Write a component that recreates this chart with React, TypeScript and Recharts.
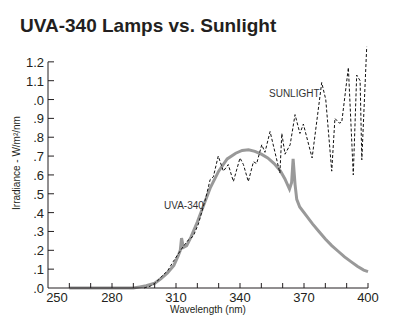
import { LineChart, Line, XAxis, YAxis, ReferenceLine } from 'recharts'

// wavelength (nm) / irradiance (W/m²/nm)
const uvaNm = [260, 290, 293, 296, 300, 303, 306, 309, 311, 312, 312.6, 313.5, 315, 317, 320, 323, 326, 330, 334, 338, 341, 344, 347, 350, 353, 356, 359, 361, 363.2, 364.2, 364.9, 365.8, 366.6, 368, 371, 374, 377, 380, 383, 386, 389, 392, 395, 398, 400]
const uvaVal = [0, 0, 0.006, 0.012, 0.025, 0.05, 0.08, 0.12, 0.17, 0.2, 0.265, 0.215, 0.225, 0.27, 0.35, 0.44, 0.53, 0.62, 0.685, 0.715, 0.73, 0.733, 0.725, 0.71, 0.69, 0.66, 0.62, 0.58, 0.525, 0.56, 0.685, 0.55, 0.47, 0.43, 0.385, 0.34, 0.3, 0.26, 0.225, 0.195, 0.165, 0.14, 0.115, 0.095, 0.087]

const sunNm = [295, 298, 300, 302, 304, 306, 308.7, 311, 313.4, 315.8, 318.1, 320.5, 322, 324, 326, 327.5, 329.8, 332.2, 334.5, 336.9, 340, 341.6, 343.9, 346.3, 347.8, 350.2, 351.7, 354.1, 358.7, 359.6, 361.1, 363.5, 365.8, 368.1, 369.7, 373.8, 378.3, 380.2, 383, 384.5, 386.5, 387.7, 390.8, 393.1, 394.7, 396.3, 397.1, 399.4]
const sunVal = [0, 0.01, 0.025, 0.045, 0.07, 0.09, 0.14, 0.18, 0.22, 0.255, 0.275, 0.34, 0.4, 0.48, 0.575, 0.59, 0.7, 0.62, 0.655, 0.565, 0.69, 0.655, 0.565, 0.67, 0.66, 0.76, 0.72, 0.83, 0.61, 0.82, 0.71, 0.76, 0.92, 0.82, 0.87, 0.69, 1.09, 1.0, 0.62, 0.9, 0.875, 0.88, 1.17, 0.6, 1.13, 1.1, 0.68, 1.28]

const xTicks = [250, 260, 270, 280, 290, 300, 310, 320, 330, 340, 350, 360, 370, 380, 390, 400]
const xTickLabels = ['250', '', '', '280', '', '', '310', '', '', '340', '', '', '370', '', '', '400']
const yTicks = [0, 0.1, 0.2, 0.3, 0.4, 0.5, 0.6, 0.7, 0.8, 0.9, 1.0, 1.1, 1.2]
const yTickLabels = ['.0', '.1', '.2', '.3', '.4', '.5', '.6', '.7', '.8', '.9', '.0', '1.1', '1.2']

const uvaData = uvaNm.map((nm, i) => ({ nm, value: uvaVal[i] }))
const sunData = sunNm.map((nm, i) => ({ nm, value: sunVal[i] }))

const FONT = '"Liberation Sans", Arial, sans-serif'
const INK = '#231f20'

function XTick(props: any) {
  const { x, y, payload } = props
  const i = xTicks.indexOf(payload.value)
  const label = xTickLabels[i]
  return (
    <g>
      {i > 0 && <line x1={x} x2={x} y1={y} y2={y - 5} stroke={INK} />}
      {label && (
        <text x={i === 0 ? x + 9 : x} y={y + 14} textAnchor="middle" fontSize={13} fill={INK} fontFamily={FONT}>
          {label}
        </text>
      )}
    </g>
  )
}

function YTick(props: any) {
  const { x, y, payload } = props
  const i = yTicks.indexOf(payload.value)
  return (
    <g>
      {i > 0 && <line x1={x} x2={x + 6} y1={y} y2={y} stroke={INK} />}
      <text x={x - 4} y={y + 5} textAnchor="end" fontSize={13} fill={INK} fontFamily={FONT}>
        {yTickLabels[i]}
      </text>
    </g>
  )
}

const textStyle = { position: 'absolute' as const, fontFamily: FONT, color: INK, whiteSpace: 'nowrap' as const, lineHeight: 1 }

export default function App() {
  return (
    <div style={{ position: 'absolute', left: 0, top: 0, width: 404, height: 331, background: '#fff' }}>
      <LineChart width={404} height={331} margin={{ top: 43, right: 36, bottom: 13, left: 8 }}>
        <XAxis
          type="number"
          dataKey="nm"
          domain={[250, 400]}
          ticks={xTicks}
          interval={0}
          tickSize={0}
          tickMargin={0}
          height={30}
          stroke={INK}
          tick={<XTick />}
          allowDuplicatedCategory={false}
        />
        <YAxis
          type="number"
          domain={[0, 1.3]}
          ticks={yTicks}
          interval={0}
          tickSize={0}
          tickMargin={0}
          width={40}
          axisLine={false}
          tick={<YTick />}
        />
        <ReferenceLine segment={[{ x: 250, y: 0 }, { x: 250, y: 1.2 }]} stroke={INK} strokeWidth={1} />
        <Line
          data={uvaData}
          dataKey="value"
          type="linear"
          stroke="#999999"
          strokeWidth={3}
          dot={false}
          isAnimationActive={false}
        />
        <Line
          data={sunData}
          dataKey="value"
          type="linear"
          stroke="#111"
          strokeWidth={1}
          strokeDasharray="3 2"
          dot={false}
          isAnimationActive={false}
        />
      </LineChart>
      <div style={{ ...textStyle, left: 20, top: 16, fontSize: 19, fontWeight: 'bold' }}>UVA-340 Lamps vs. Sunlight</div>
      <div style={{ ...textStyle, left: 208, top: 305, fontSize: 10, transform: 'translateX(-50%)' }}>Wavelength (nm)</div>
      <div style={{ ...textStyle, left: 17, top: 163, fontSize: 10, transform: 'translate(-50%, -50%) rotate(-90deg)' }}>
        Irradiance - W/m²/nm
      </div>
      <div style={{ ...textStyle, left: 269, top: 89, fontSize: 10, color: '#333' }}>SUNLIGHT</div>
      <div style={{ ...textStyle, left: 164, top: 201, fontSize: 10, color: '#333' }}>UVA-340</div>
    </div>
  )
}
